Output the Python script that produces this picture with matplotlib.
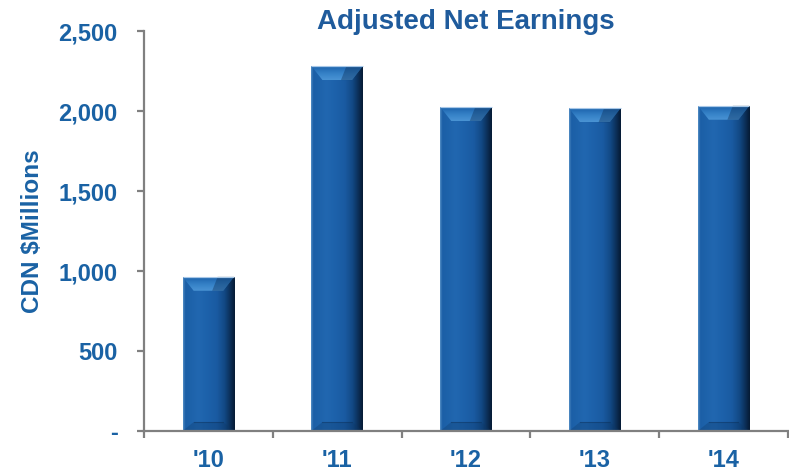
import numpy as np
import matplotlib
matplotlib.use('Agg')
from matplotlib import pyplot as plt
from matplotlib.patches import Polygon
from matplotlib.colors import LinearSegmentedColormap
from matplotlib.ticker import FuncFormatter

years = ["'10", "'11", "'12", "'13", "'14"]
earnings = [964, 2281, 2025, 2017, 2033]
y_ticks = [0, 500, 1000, 1500, 2000, 2500]

text_blue = '#1a62a4'
axis_grey = '#808080'

plt.rcParams['font.family'] = ['Liberation Sans', 'DejaVu Sans']
plt.rcParams['font.weight'] = 'bold'


def gradient(colors, n=256):
    cmap = LinearSegmentedColormap.from_list('g', colors)
    return cmap(np.linspace(0, 1, n))[:, :3]


# horizontal shading across each bar: light rim, body, dark right side
side_shade = gradient([(0.0, '#5a93c8'), (0.04, '#1b5fa6'), (0.3, '#2167b0'),
                       (0.45, '#1d62ab'), (0.65, '#1a5ba2'), (0.8, '#124985'),
                       (0.92, '#0b2d55'), (1.0, '#061a33')])
# vertical shading for the top bevel (bottom -> top)
top_shade = gradient([(0.0, '#4a94d4'), (0.5, '#3480c6'), (0.9, '#2068b0'), (1.0, '#6ea4d8')])


def bevel_bar(ax, rect):
    x0, y0 = rect.get_x(), rect.get_y()
    w, h = rect.get_width(), rect.get_height()
    x1, y1 = x0 + w, y0 + h
    im = ax.imshow(side_shade[np.newaxis, :, :], extent=(x0, x1, y0, y1),
                   aspect='auto', interpolation='bicubic', zorder=3)
    im.set_clip_path(rect)

    # bevel size in data units from pixel sizes
    inv = ax.transData.inverted()
    px = ax.transData.transform((x0, y1))
    dx = inv.transform((px[0] + 11, px[1]))[0] - x0
    dy = y1 - inv.transform((px[0], px[1] - 14))[1]
    dyb = y1 - inv.transform((px[0], px[1] - 9))[1]

    top = Polygon([(x0, y1), (x1, y1), (x1 - dx, y1 - dy), (x0 + dx, y1 - dy)],
                  closed=True, facecolor='none', edgecolor='none', zorder=4)
    ax.add_patch(top)
    tim = ax.imshow(top_shade[::-1, np.newaxis, :], extent=(x0, x1, y1 - dy, y1),
                    aspect='auto', interpolation='bicubic', zorder=4)
    tim.set_clip_path(top)
    # shade the right part of the top bevel
    ax.add_patch(Polygon([(x1, y1), (x1 - dx, y1 - dy), (x1 - dx * 2.0, y1 - dy), (x1 - dx * 1.5, y1)],
                         closed=True, facecolor='#0c2f58', alpha=0.4, edgecolor='none', zorder=5))

    bot = Polygon([(x0, y0), (x1, y0), (x1 - dx, y0 + dyb), (x0 + dx, y0 + dyb)],
                  closed=True, facecolor='#0d3766', alpha=0.3, edgecolor='none', zorder=4)
    ax.add_patch(bot)
    ax.plot([x0 + dx, x1 - dx], [y0 + dyb, y0 + dyb], color='#0b2d55', lw=0.8, alpha=0.4, zorder=5)
    # thin light rim along the top edge
    ax.plot([x0, x1], [y1, y1], color='#a8c8e8', lw=0.8, zorder=6, solid_capstyle='butt')


fig = plt.figure(figsize=(7.89, 4.73), dpi=100)
ax = fig.add_axes([144 / 789, 1 - 431 / 473, 644 / 789, 400 / 473])

x = np.arange(len(years))
bars = ax.bar(x, earnings, width=0.4, color='#1d60a8', zorder=2)

ax.set_xlim(-0.5, len(years) - 0.5)
ax.set_ylim(0, 2500)
fig.canvas.draw()
for rect in bars:
    bevel_bar(ax, rect)
ax.set_xlim(-0.5, len(years) - 0.5)
ax.set_ylim(0, 2500)

for side in ['top', 'right']:
    ax.spines[side].set_visible(False)
for side in ['left', 'bottom']:
    ax.spines[side].set_color(axis_grey)
    ax.spines[side].set_linewidth(1.6)
    ax.spines[side].set_zorder(7)

ax.set_yticks(y_ticks)
ax.yaxis.set_major_formatter(FuncFormatter(lambda v, p: '-' if v == 0 else f'{int(v):,}'))
ax.tick_params(axis='y', direction='out', length=5, width=1.6, color=axis_grey,
               labelsize=17, labelcolor=text_blue, pad=14)

ax.set_xticks(x)
ax.set_xticklabels(years)
ax.set_xticks(np.arange(len(years) + 1) - 0.5, minor=True)
ax.tick_params(axis='x', which='major', length=0, labelsize=17, labelcolor=text_blue, pad=13)
ax.tick_params(axis='x', which='minor', direction='out', length=5, width=1.6, color=axis_grey)

ax.set_ylabel('CDN $Millions', fontsize=17.5, color=text_blue, fontweight='bold')
ax.yaxis.set_label_coords(-0.155, 0.5)

# title sits right on top of the plot area
ax.text(0.5, 1.004, 'Adjusted Net Earnings', transform=ax.transAxes, ha='center',
        va='baseline', fontsize=20, color='#1f5b9c', fontweight='bold')

fig.savefig('out.png', dpi=100)
